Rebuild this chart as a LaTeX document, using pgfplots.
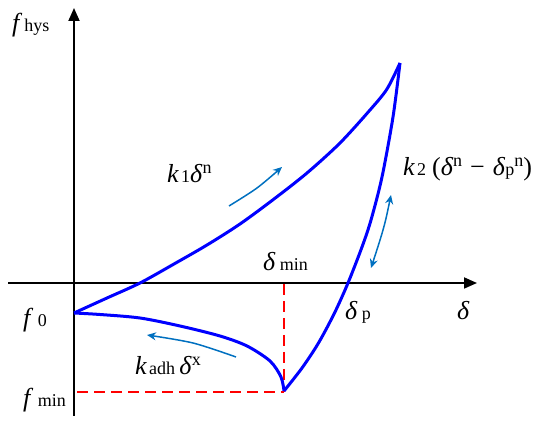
\documentclass[border=0pt]{standalone}
\usepackage{fontspec}
\setmainfont{Liberation Serif}
\usepackage{pgfplots}
\pgfplotsset{compat=1.18}
\usetikzlibrary{arrows.meta}
\definecolor{curveblue}{RGB}{0,0,255}
\definecolor{arrowblue}{RGB}{0,112,192}
\definecolor{guide}{RGB}{255,0,0}
\newcommand{\lo}[1]{{\fontsize{18}{18}\selectfont #1}}
\newcommand{\hi}[1]{\raisebox{9.5pt}{\fontsize{18}{18}\selectfont #1}}
\newcommand{\dl}{\textit{δ}}
\tikzset{lab/.style={anchor=base west, font=\fontsize{26}{30}\selectfont, inner sep=0pt}}
\begin{document}
\begin{tikzpicture}
\begin{axis}[
  scale only axis, width=550pt, height=428pt,
  xmin=-74, xmax=476, ymin=-145, ymax=283,
  hide axis, clip=false,
  every axis plot/.append style={line join=round},
]
% frame of the picture (invisible)
\addplot[draw=none] coordinates {(-74,-145) (476,283)};

% coordinate axes
\addplot[black, line width=1.8pt, -{Triangle[length=13pt,width=11pt]}] coordinates {(-66,0) (403,0)};
\addplot[black, line width=1.8pt, -{Triangle[length=13pt,width=11pt]}] coordinates {(0,-133) (0,275)};

% guide lines to the minimum
\addplot[guide, line width=1.6pt, dash pattern=on 11pt off 6pt] coordinates {(210,-1) (210,-109)};
\addplot[guide, line width=1.6pt, dash pattern=on 11pt off 6pt] coordinates {(3,-109) (210,-109)};

% loading k1 delta^n
\addplot[curveblue, line width=3pt, smooth] coordinates {
  (0,-30) (33,-15) (66,0) (100,19) (133,38) (166,59) (200,84)
  (233,110) (266,140) (296,173) (313,194) (326,220)
};
% unloading k2 (delta^n - delta_p^n)
\addplot[curveblue, line width=3pt, smooth] coordinates {
  (326,220) (319,166) (308,106) (297,63) (288,36) (274,0)
  (260.5,-30) (244.5,-60) (228,-85) (210,-108)
};
% adhesion kadh delta^x
\addplot[curveblue, line width=3pt, smooth] coordinates {
  (210,-108) (207,-94) (196,-78) (173,-63) (146,-53) (106,-43)
  (66,-35) (26,-31.5) (0,-30)
};

% direction arrows
\addplot[arrowblue, line width=1.5pt, smooth, -{Stealth[length=9pt,width=8pt]}] coordinates {(155,77) (183,95) (208,116)};
\addplot[arrowblue, line width=1.5pt, smooth, {Stealth[length=9pt,width=8pt]}-{Stealth[length=9pt,width=8pt]}] coordinates {(317,88) (309,53) (297,15)};
\addplot[arrowblue, line width=1.5pt, smooth, -{Stealth[length=9pt,width=8pt]}] coordinates {(162,-74) (119,-60) (73,-52)};

% labels
\node[lab] at (axis cs:-62,251) {\textit{f}\kern2pt\lo{hys}};
\node[lab] at (axis cs:93,100) {\textit{k}\kern2pt\lo{1}\dl\hi{n}};
\node[lab] at (axis cs:329,107) {\textit{k}\kern2pt\lo{2}\hspace{6pt}(\dl\hi{n}\hspace{8pt}−\hspace{8pt}\dl\lo{p}\hi{n})};
\node[lab] at (axis cs:189,12) {\dl\,\lo{min}};
\node[lab] at (axis cs:271,-37) {\dl\,\lo{p}};
\node[lab] at (axis cs:383,-37) {\dl};
\node[lab] at (axis cs:-51,-44) {\textit{f}\,\lo{0}};
\node[lab] at (axis cs:-51,-124) {\textit{f}\,\lo{min}};
\node[lab] at (axis cs:61,-92) {\textit{k}\kern2pt\lo{adh}\,\dl\hi{x}};
\end{axis}
\end{tikzpicture}
\end{document}
